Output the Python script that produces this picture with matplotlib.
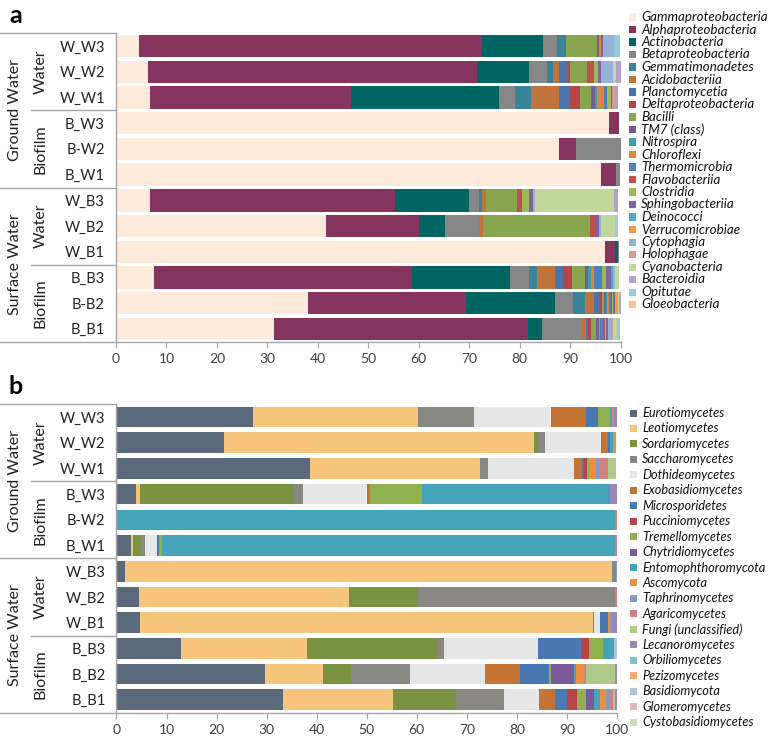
import matplotlib
matplotlib.use('Agg')
import matplotlib.pyplot as plt
from matplotlib.patches import Rectangle
from matplotlib.lines import Line2D
import numpy as np

# ---------------- data ----------------
samples_a = ["W_W3", "W_W2", "W_W1", "B_W3", "B-W2", "B_W1",
             "W_B3", "W_B2", "W_B1", "B_B3", "B-B2", "B_B1"]
samples_b = ["W_W3", "W_W2", "W_W1", "B_W3", "B-W2", "B_W1",
             "W_B3", "W_B2", "W_B1", "B_B3", "B_B2", "B_B1"]

classes_a = ["Gammaproteobacteria", "Alphaproteobacteria", "Actinobacteria",
             "Betaproteobacteria", "Gemmatimonadetes", "Acidobacteriia",
             "Planctomycetia", "Deltaproteobacteria", "Bacilli", "TM7 (class)",
             "Nitrospira", "Chloroflexi", "Thermomicrobia", "Flavobacteriia",
             "Clostridia", "Sphingobacteriia", "Deinococci", "Verrucomicrobiae",
             "Cytophagia", "Holophagae", "Cyanobacteria", "Bacteroidia",
             "Opitutae", "Gloeobacteria"]
colors_a = ["#FDEADA", "#86335E", "#006462", "#878787", "#3A8499", "#C0733A",
            "#4A74AA", "#B54648", "#89A54E", "#7A5C95", "#3F9DB5", "#DE853B",
            "#4F80BD", "#C0504D", "#9BBB59", "#8064A2", "#4BACC6", "#F79646",
            "#95B3D7", "#D99694", "#C3D69B", "#B3A2C7", "#93CDDD", "#FAC090"]

# bacterial class composition (%), one list per sample, in classes_a order
a_W_W3 = [4.6, 68.0, 12.1, 2.7, 1.7, 0, 0, 0, 6.3, 0.4, 0, 0.3, 0, 0, 0, 0.4, 0, 0, 2.3, 0, 0, 0, 1.2, 0]
a_W_W2 = [6.4, 65.2, 10.3, 3.5, 1.2, 1.2, 1.8, 0.3, 3.4, 0, 0, 0, 0, 1.5, 0.8, 0.5, 0, 0, 2.4, 0, 0.6, 0.9, 0, 0]
a_W_W1 = [6.8, 39.8, 29.3, 3.1, 3.3, 5.5, 2.1, 2.0, 2.3, 0.8, 0.3, 1.5, 0.5, 0, 0.8, 0.3, 0, 0, 0, 0.6, 0, 0.5, 0, 0]
a_B_W3 = [97.8, 2.0, 0, 0, 0, 0, 0, 0, 0, 0, 0, 0, 0, 0, 0, 0, 0, 0, 0, 0, 0, 0, 0, 0]
a_B_W2 = [87.9, 3.3, 0, 8.8, 0, 0, 0, 0, 0, 0, 0, 0, 0, 0, 0, 0, 0, 0, 0, 0, 0, 0, 0, 0]
a_B_W1 = [96.2, 3.0, 0, 0.7, 0, 0, 0, 0, 0, 0, 0, 0, 0, 0, 0, 0, 0, 0, 0, 0, 0, 0, 0, 0]
a_W_B3 = [6.8, 48.5, 14.7, 1.9, 0.6, 0.8, 0, 0, 6.1, 0, 0, 0, 0, 1.0, 1.5, 0.7, 0, 0, 0.5, 0, 15.7, 0.7, 0, 0]
a_W_B2 = [41.7, 18.3, 5.3, 6.6, 0, 0.8, 0, 0, 21.0, 0, 0, 0.3, 0, 1.0, 0, 0.7, 0, 0, 0.5, 0, 2.7, 0, 0.7, 0]
a_W_B1 = [97.0, 1.9, 0.6, 0.3, 0, 0, 0, 0, 0, 0, 0, 0, 0, 0, 0, 0, 0, 0, 0, 0, 0, 0, 0, 0]
a_B_B3 = [7.5, 51.1, 19.5, 3.7, 1.7, 3.6, 1.6, 1.7, 2.5, 0.6, 0.7, 0.6, 1.3, 0.3, 0.7, 1.0, 0.5, 0, 0.3, 0, 0.8, 0, 0, 0]
a_B_B2 = [38.0, 31.3, 17.8, 3.4, 2.4, 1.9, 1.0, 0.6, 0.4, 0.4, 0.2, 0.4, 0.3, 0.2, 0.2, 0.4, 0.1, 0.3, 0.2, 0.1, 0.1, 0.3, 0, 0]
a_B_B1 = [31.4, 50.2, 2.9, 7.7, 0, 1.0, 0.4, 0.5, 1.0, 0.6, 0, 0.3, 0.6, 0.3, 0.3, 0.3, 0, 0, 0.7, 0.3, 0.9, 0, 0.6, 0]

classes_b = ["Eurotiomycetes", "Leotiomycetes", "Sordariomycetes", "Saccharomycetes",
             "Dothideomycetes", "Exobasidiomycetes", "Microsporidetes",
             "Pucciniomycetes", "Tremellomycetes", "Chytridiomycetes",
             "Entomophthoromycota", "Ascomycota", "Taphrinomycetes",
             "Agaricomycetes", "Fungi (unclassified)", "Lecanoromycetes",
             "Orbiliomycetes", "Pezizomycetes", "Basidiomycota", "Glomeromycetes",
             "Cystobasidiomycetes"]
colors_b = ["#5A697B", "#F6C47B", "#7A9343", "#898782", "#E7E6E6", "#C47434",
            "#4A78B4", "#B84444", "#8FB150", "#7A5A9B", "#45A3BA", "#EE8E3F",
            "#7E9DC8", "#D28080", "#ADC88A", "#9B88B8", "#7FC0D4", "#F7A978",
            "#B3C3DE", "#E2B8B8", "#CADFB9"]

# fungal class composition (%), one list per sample, in classes_b order
b_W_W3 = [27.2, 33.1, 0, 11.1, 15.5, 7.0, 2.4, 0, 2.4, 0, 0.3, 0, 0, 0.5, 0, 0.5, 0, 0, 0, 0, 0]
b_W_W2 = [21.5, 61.9, 0.8, 1.4, 11.2, 1.4, 0.5, 0, 0, 0, 0.6, 0.5, 0, 0, 0, 0, 0, 0, 0, 0, 0]
b_W_W1 = [38.7, 34.0, 0, 1.5, 17.2, 1.6, 0.5, 0.5, 0.4, 0, 0, 1.4, 0.7, 1.8, 1.6, 0, 0, 0, 0, 0, 0]
b_B_W3 = [3.8, 0.9, 30.7, 1.8, 12.8, 0.7, 0, 0, 10.3, 0, 37.7, 0, 0, 0, 0, 1.3, 0, 0, 0, 0, 0]
b_B_W2 = [0, 0, 0, 0, 0, 0, 0, 0, 0, 0, 99.7, 0, 0, 0.3, 0, 0, 0, 0, 0, 0, 0]
b_B_W1 = [2.9, 0.3, 1.6, 0.9, 2.3, 0, 0.4, 0, 0.7, 0, 90.5, 0, 0, 0.4, 0, 0, 0, 0, 0, 0, 0]
b_W_B3 = [1.7, 97.3, 0, 0.8, 0, 0, 0, 0, 0, 0, 0, 0, 0.2, 0, 0, 0, 0, 0, 0, 0, 0]
b_W_B2 = [4.4, 42.0, 13.8, 39.5, 0, 0, 0, 0, 0, 0, 0, 0, 0, 0.3, 0, 0, 0, 0, 0, 0, 0]
b_W_B1 = [4.7, 90.5, 0.2, 0, 1.3, 0, 1.5, 0, 0, 0, 0, 0.5, 0.3, 0, 0, 1.0, 0, 0, 0, 0, 0]
b_B_B3 = [12.9, 25.2, 26.1, 1.2, 18.8, 0, 8.6, 1.7, 2.7, 0, 2.2, 0, 0, 0, 0, 0, 0, 0, 0.6, 0, 0]
b_B_B2 = [29.6, 11.6, 5.6, 11.9, 15.0, 7.0, 5.8, 0, 0.4, 4.5, 0.4, 1.6, 0, 0.5, 5.7, 0.4, 0, 0, 0, 0, 0]
b_B_B1 = [33.2, 22.0, 12.7, 9.5, 7.1, 3.2, 2.3, 2.0, 1.8, 1.6, 1.3, 1.1, 0.9, 0.5, 0.5, 0.3, 0, 0, 0, 0, 0]

groups = ["Ground Water", "Surface Water"]
subgroups = ["Water", "Biofilm", "Water", "Biofilm"]
xticks = [0, 10, 20, 30, 40, 50, 60, 70, 80, 90, 100]

data_a = np.array([a_W_W3, a_W_W2, a_W_W1, a_B_W3, a_B_W2, a_B_W1,
                   a_W_B3, a_W_B2, a_W_B1, a_B_B3, a_B_B2, a_B_B1])
data_b = np.array([b_W_W3, b_W_W2, b_W_W1, b_B_W3, b_B_W2, b_B_W1,
                   b_W_B3, b_W_B2, b_W_B1, b_B_B3, b_B_B2, b_B_B1])

# ---------------- figure ----------------
plt.rcParams['font.family'] = ['Lato', 'DejaVu Sans']
W, H = 777, 743
fig = plt.figure(figsize=(W / 100, H / 100), dpi=100)
GRAY = "#A6A6A6"


def fx(px):
    return px / W


def fy(py):
    return 1 - py / H


def panel(data, samples, classes, colors, x0, x1, y0, y1, bar_h,
          letter, leg_x, leg_y0, leg_dy, fs_leg):
    ax = fig.add_axes([fx(x0), fy(y1), (x1 - x0) / W, (y1 - y0) / H])
    n = len(samples)
    ypos = np.arange(n)
    left = np.zeros(n)
    for j, (cname, col) in enumerate(zip(classes, colors)):
        ax.barh(ypos, data[:, j], left=left, height=bar_h, color=col,
                edgecolor='none', linewidth=0)
        left += data[:, j]
    ax.set_xlim(0, 100)
    ax.set_ylim(n - 0.5, -0.5)
    ax.set_xticks(xticks)
    ax.set_xticklabels([str(t) for t in xticks])
    ax.set_yticks(ypos)
    ax.set_yticklabels(samples)
    for s in ['top', 'right']:
        ax.spines[s].set_visible(False)
    for s in ['left', 'bottom']:
        ax.spines[s].set_color(GRAY)
        ax.spines[s].set_linewidth(1.0)
    ax.tick_params(axis='x', direction='out', length=4, color=GRAY,
                   labelsize=10, labelcolor='#404040', pad=4)
    ax.tick_params(axis='y', length=0, labelsize=10.5, labelcolor='#222222', pad=8)

    # grouping structure on the left
    row = (y1 - y0) / n
    for b in [0, 6, 12]:
        yy = fy(y0 + b * row)
        fig.add_artist(Line2D([0, fx(x0)], [yy, yy], color=GRAY, lw=1.0))
    for b in [3, 9]:
        yy = fy(y0 + b * row)
        fig.add_artist(Line2D([fx(31), fx(x0)], [yy, yy], color=GRAY, lw=1.0))
    for gi, g in enumerate(groups):
        fig.text(fx(15), fy(y0 + (gi * 6 + 3) * row), g, rotation=90,
                 ha='center', va='center', fontsize=11.5, color='#222222')
    for si, sg in enumerate(subgroups):
        fig.text(fx(41), fy(y0 + (si * 3 + 1.5) * row), sg, rotation=90,
                 ha='center', va='center', fontsize=11.5, color='#222222')
    fig.text(fx(9), fy(y0 - 10), letter, fontsize=18, fontweight='bold',
             ha='left', va='baseline')

    # legend
    sq = 7
    for j, (cname, col) in enumerate(zip(classes, colors)):
        yc = leg_y0 + j * leg_dy
        fig.add_artist(Rectangle((fx(leg_x), fy(yc + sq / 2)), sq / W, sq / H,
                                 transform=fig.transFigure, facecolor=col,
                                 edgecolor='none'))
        fig.text(fx(leg_x + sq + 5), fy(yc), cname, fontsize=fs_leg,
                 style='italic', ha='left', va='center', color='#111111')
    return ax


panel(data_a, samples_a, classes_a, colors_a, 116, 620.5, 33.3, 341.7, 0.87,
      'a', 629, 17, 12.5, 9.6)
panel(data_b, samples_b, classes_b, colors_b, 116.5, 617, 404.2, 712.6, 0.80,
      'b', 630, 413, 15.45, 9.2)

fig.savefig('out.png', dpi=100)
